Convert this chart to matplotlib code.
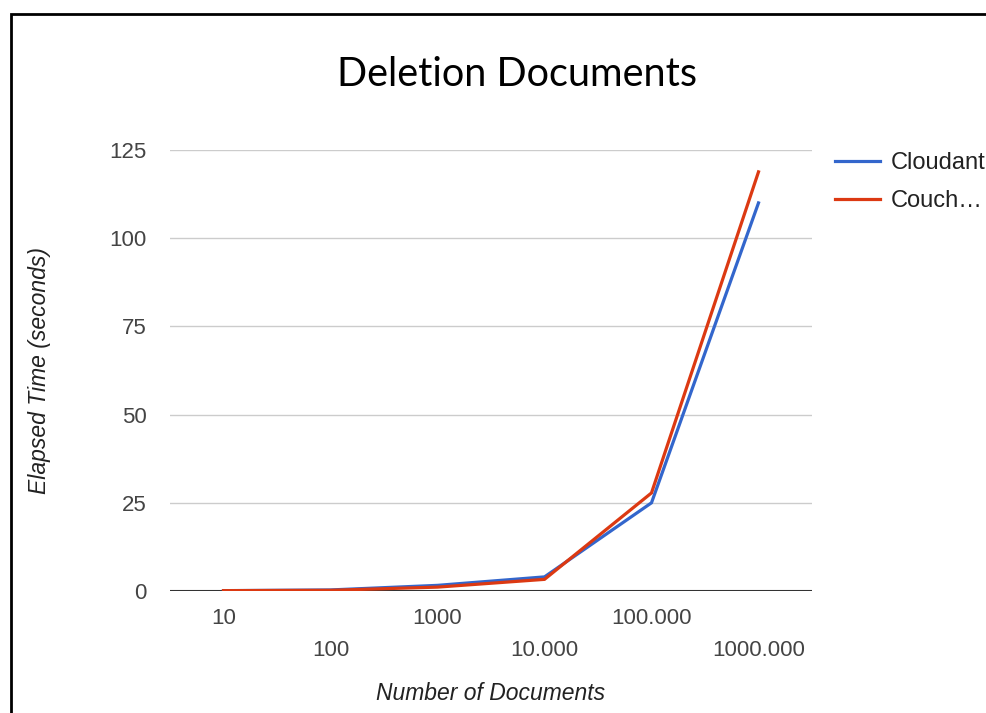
import matplotlib.pyplot as plt
from matplotlib.patches import Rectangle

docs = ['10', '100', '1000', '10.000', '100.000', '1000.000']
cloudant = [0.1, 0.3, 1.6, 4.0, 25.0, 110.0]
couch = [0.1, 0.2, 1.1, 3.3, 27.8, 118.8]
yticks = [0, 25, 50, 75, 100, 125]

plt.rcParams['font.family'] = ['Liberation Sans', 'DejaVu Sans']

fig = plt.figure(figsize=(9.86, 7.13), dpi=100)
ax = fig.add_axes([170 / 986, 1 - 591 / 713, 642 / 986, 441 / 713])

x = list(range(len(docs)))
ax.plot(x, cloudant, color='#3366cc', lw=2.3, label='Cloudant', solid_joinstyle='miter')
ax.plot(x, couch, color='#dc3912', lw=2.3, label='Couch…', solid_joinstyle='miter')

ax.set_xlim(-0.5, 5.5)
ax.set_ylim(0, 125)
ax.set_yticks(yticks)
ax.set_xticks(x)
ax.set_xticklabels(docs)
ax.grid(axis='y', color='#cccccc', lw=1)
ax.set_axisbelow(True)
ax.axhline(0, color='#333333', lw=1.5, zorder=1)
for s in ax.spines.values():
    s.set_visible(False)
ax.tick_params(length=0, labelsize=16, labelcolor='#444444')
ax.tick_params(axis='y', pad=17)
for i, t in enumerate(ax.xaxis.get_major_ticks()):
    t.set_pad(12 if i % 2 == 0 else 35)

ax.set_ylabel('Elapsed Time (seconds)', fontsize=16.5, style='italic', color='#222222')
ax.yaxis.set_label_coords(-130 / 642, 0.5)
ax.set_xlabel('Number of Documents', fontsize=16.5, style='italic', color='#222222')
ax.xaxis.set_label_coords(321 / 642, -(693 - 591) / 441)
ax.xaxis.label.set_va('center')
ax.yaxis.label.set_va('center')

fig.text(517 / 986, 1 - 75 / 713, 'Deletion Documents', ha='center', va='center',
         fontsize=28.5, family=['Lato', 'DejaVu Sans'])

ax.legend(loc='upper left', bbox_to_anchor=(835 / 986, 1 - 152 / 713),
          bbox_transform=fig.transFigure, frameon=False, fontsize=17,
          handlelength=1.9, handletextpad=0.47, labelspacing=0.68, borderpad=0,
          borderaxespad=0, labelcolor='#222222')

fig.patches.append(Rectangle((11 / 986, -0.1), 1.2, 1.1 - 14 / 713,
                             transform=fig.transFigure, fill=False,
                             edgecolor='black', lw=2))

fig.savefig('out.png', dpi=100)
